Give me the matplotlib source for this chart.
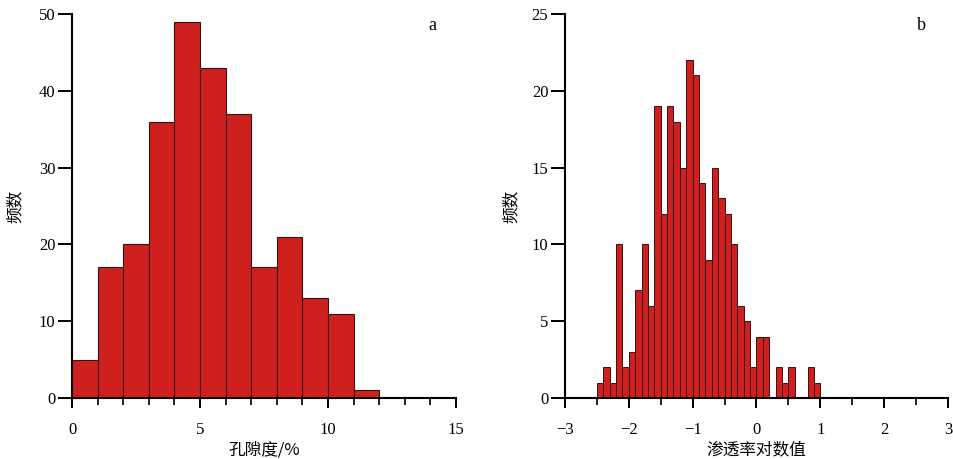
import numpy as np
import matplotlib.pyplot as plt
from matplotlib.ticker import MultipleLocator

plt.rcParams['font.family'] = ['Liberation Serif', 'Noto Sans CJK SC']

# a) porosity histogram, bins of width 1 starting at 0
por_edges = np.arange(0, 13, 1)
por_counts = [5, 17, 20, 36, 49, 43, 37, 17, 21, 13, 11, 1]

# b) log-permeability histogram, bins of width 0.1 from -2.5 to 1.0
perm_edges = np.round(np.arange(-2.5, 1.01, 0.1), 2)
perm_counts = [1, 2, 1, 10, 2, 3, 7, 10, 6, 19,
               12, 19, 18, 15, 22, 21, 14, 9, 15, 13,
               12, 10, 6, 5, 2, 4, 4, 0, 2, 1,
               2, 0, 0, 2, 1]

bar_color = '#CF2020'
edge_color = '#3a1010'
cjk = ['Noto Sans CJK SC', 'DejaVu Sans']

fig = plt.figure(figsize=(9.54, 4.59), dpi=100)
ax1 = fig.add_axes([0.0755, 0.1329, 0.4025, 0.8366])
ax2 = fig.add_axes([0.5922, 0.1329, 0.4015, 0.8366])


def style(ax):
    for s in ['top', 'right']:
        ax.spines[s].set_visible(False)
    for s in ['left', 'bottom']:
        ax.spines[s].set_linewidth(1.5)
    ax.tick_params(axis='x', which='major', direction='out', length=7, width=1.4,
                   pad=10, labelsize=12)
    ax.tick_params(axis='x', which='minor', direction='out', length=5, width=1.2)
    ax.tick_params(axis='y', which='major', direction='out', length=10, width=1.4,
                   pad=2, labelsize=12)
    ax.tick_params(axis='y', which='minor', length=0)


ax1.bar(por_edges[:-1], por_counts, width=1, align='edge', color=bar_color,
        edgecolor=edge_color, linewidth=0.8)
ax1.set_xlim(0, 15)
ax1.set_ylim(0, 50)
ax1.xaxis.set_major_locator(MultipleLocator(5))
ax1.xaxis.set_minor_locator(MultipleLocator(1))
ax1.yaxis.set_major_locator(MultipleLocator(10))
style(ax1)
ax1.set_xlabel('孔隙度/%', family=cjk, fontsize=12, labelpad=3)
ax1.set_ylabel('频数', family=cjk, fontsize=12)
ax1.yaxis.set_label_coords(-0.125, 0.5)
ax1.text(0.9375, 0.97, 'a', transform=ax1.transAxes, fontsize=13,
         ha='center', va='center')

ax2.bar(perm_edges[:-1], perm_counts, width=0.1, align='edge', color=bar_color,
        edgecolor=edge_color, linewidth=0.7)
ax2.set_xlim(-3, 3)
ax2.set_ylim(0, 25)
ax2.xaxis.set_major_locator(MultipleLocator(1))
ax2.xaxis.set_minor_locator(MultipleLocator(0.5))
ax2.yaxis.set_major_locator(MultipleLocator(5))
style(ax2)
ax2.set_xlabel('渗透率对数值', family=cjk, fontsize=12, labelpad=3)
ax2.set_ylabel('频数', family=cjk, fontsize=12)
ax2.yaxis.set_label_coords(-0.117, 0.5)
ax2.text(0.932, 0.97, 'b', transform=ax2.transAxes, fontsize=13,
         ha='center', va='center')

fig.savefig('out.png', dpi=100)
